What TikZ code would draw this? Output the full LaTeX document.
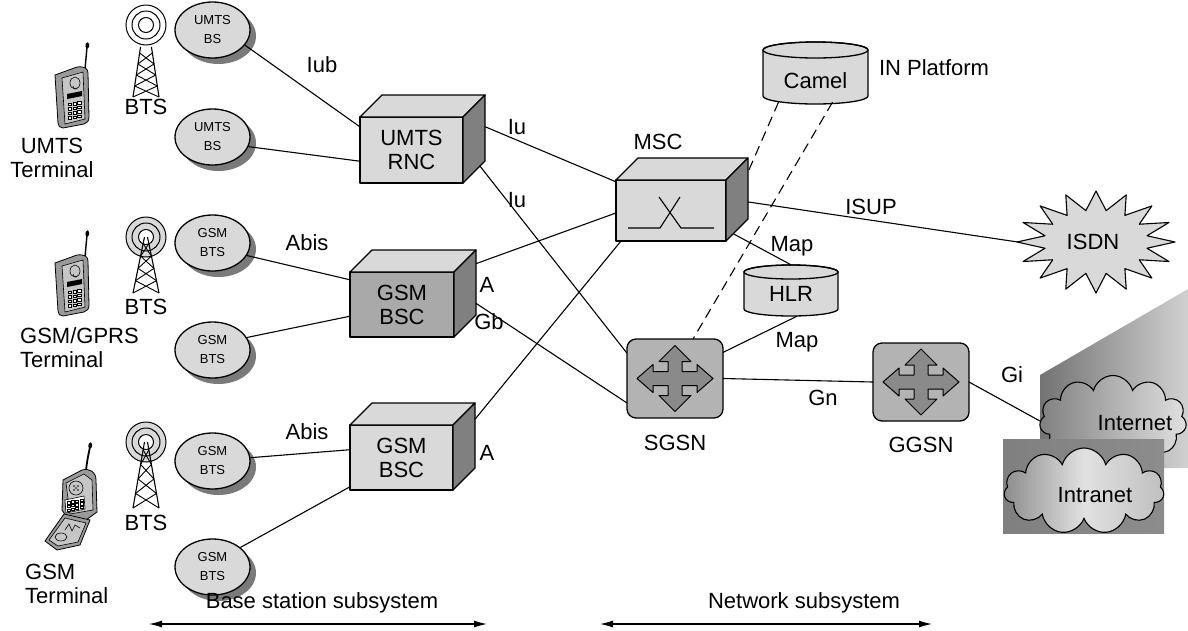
\documentclass[tikz,border=0pt]{standalone}
\usepackage{fontspec}
\setmainfont{Liberation Sans}
\usetikzlibrary{calc,shapes.geometric,shapes.symbols,arrows.meta}

\definecolor{boxlight}{HTML}{D9D9D9}
\definecolor{boxside}{HTML}{808080}
\definecolor{boxmid}{HTML}{A9A9A9}
\definecolor{routerfill}{HTML}{B3B3B3}
\definecolor{routerarrow}{HTML}{8A8A8A}
\definecolor{shadowgray}{HTML}{7A7A7A}
\definecolor{phonebody}{HTML}{9A9A9A}
\definecolor{phoneface}{HTML}{C6C6C6}

\tikzset{
  lbl/.style={font=\fontsize{22}{24}\selectfont, inner sep=0pt, align=center},
  small/.style={font=\fontsize{13}{19}\selectfont},
  link/.style={line width=1.1pt},
  dashlink/.style={line width=1.1pt, dash pattern=on 10pt off 6pt},
  outline/.style={line width=1.3pt, line join=round},
  cubefront/.style={outline, draw, rectangle, outer sep=0pt, inner sep=0pt, lbl},
  station/.style={ellipse, draw, outline, fill=boxlight, minimum width=75pt,
    minimum height=56pt, inner sep=0pt, align=center, small},
  stationshadow/.style={ellipse, fill=shadowgray, minimum width=75pt,
    minimum height=56pt, inner sep=0pt},
  router/.style={draw, outline, fill=routerfill, rounded corners=9pt,
    minimum width=96pt, minimum height=79pt, outer sep=0pt},
  span/.style={line width=1.1pt, {Latex[length=13pt,width=7pt]}-{Latex[length=13pt,width=7pt]}},
  pics/crossarrow/.style={code={
    \filldraw[outline, line width=1pt, fill=routerarrow]
      (0,-33) -- (16,-17) -- (7,-17) -- (7,-7) -- (22,-7) -- (22,-14) -- (38,0)
      -- (22,14) -- (22,7) -- (7,7) -- (7,17) -- (16,17) -- (0,33) -- (-16,17)
      -- (-7,17) -- (-7,7) -- (-22,7) -- (-22,14) -- (-38,0) -- (-22,-14)
      -- (-22,-7) -- (-7,-7) -- (-7,-17) -- (-16,-17) -- cycle;}},
  pics/barphone/.style={code={
    \draw[line width=1.4pt] (30,2) -- (32,-20);
    \draw[line width=3.5pt, line cap=round] (32.2,-20) -- (32.5,-23);
    \filldraw[line width=0.8pt, fill=phonebody] (0,8) -- (22,0)
      .. controls (30,-1) and (33,2) .. (33,6) -- (34,50)
      .. controls (34,54) and (32,56) .. (29,57) -- (8,61)
      .. controls (5,61) and (3,59) .. (3,56) -- cycle;
    \filldraw[line width=0.6pt, fill=phoneface] (7,11) -- (28,5) -- (30,52) -- (10,57) -- cycle;
    \draw[line width=0.6pt] (20,16) ellipse [x radius=5, y radius=6];
    \draw[line width=0.6pt] (18,19) arc [start angle=180, end angle=60, radius=3];
    \fill[black] (12,27) -- (27,24) -- (27,29) -- (12,32) -- cycle;
    \foreach \r in {0,1,2,3} \foreach \c in {0,1,2}
      \filldraw[fill=white, line width=0.4pt] (13+4.8*\c, 36+4.5*\r-0.8*\c) rectangle ++(3.4,2.6);
  }},
}

% three-dimensional box: name, centre of front face, width, height, front fill, text
\newcommand\cubebox[6]{%
  \node[cubefront, fill=#5, minimum width=#3pt, minimum height=#4pt] (#1) at (#2) {#6};
  \coordinate (#1-bnw) at ($(#1.north west)+(22,-22)$);
  \coordinate (#1-bne) at ($(#1.north east)+(22,-22)$);
  \coordinate (#1-bse) at ($(#1.south east)+(22,-22)$);
  \filldraw[outline, fill=boxlight] (#1.north west) -- (#1-bnw) -- (#1-bne) -- (#1.north east) -- cycle;
  \filldraw[outline, fill=boxside] (#1.north east) -- (#1-bne) -- (#1-bse) -- (#1.south east) -- cycle;
}

% base station ellipse with its shadow: name, x, y, text
\newcommand\basestation[4]{%
  \node[stationshadow] (#1-shadow) at (#2+6,#3+6) {};
  \node[station] (#1) at (#2,#3) {#4};
}

% radio mast: x, y of the rings, tower top offset, tower bottom offset, ring fill
\newcommand\radiomast[5]{%
  \filldraw[line width=1pt, fill=#5] (#1,#2) circle[radius=20];
  \draw[line width=1pt] (#1,#2) circle[radius=14];
  \filldraw[line width=1pt, fill=white] (#1,#2) circle[radius=7.5];
  \pgfmathsetmacro\mtop{#2+#3}
  \pgfmathsetmacro\mbot{#2+#4}
  \pgfmathsetmacro\mwt{1.5+0.18*#3}
  \draw[line width=1.1pt] (#1-\mwt,\mtop) -- (#1-13,\mbot) (#1+\mwt,\mtop) -- (#1+13,\mbot);
  \foreach \k in {0,1,2,3}{%
    \pgfmathsetmacro\ya{\mtop+(\mbot-\mtop)*(0.12+0.22*\k)}
    \pgfmathsetmacro\yb{\mtop+(\mbot-\mtop)*(0.34+0.22*\k)}
    \pgfmathsetmacro\wa{\mwt+(13-\mwt)*(0.12+0.22*\k)}
    \pgfmathsetmacro\wb{\mwt+(13-\mwt)*(0.34+0.22*\k)}
    \draw[line width=0.9pt] (#1-\wa,\ya) -- (#1+\wb,\yb) (#1+\wa,\ya) -- (#1-\wb,\yb);
  }
}

\begin{document}
\begin{tikzpicture}[x=1pt,y=-1pt]
\useasboundingbox (0,0) rectangle (1188,630);

% ---------- terminals ----------
\pic at (55,67) {barphone};
\pic at (55,255) {barphone};
% flip phone
\draw[line width=1.8pt] (86,471) .. controls (87,460) and (89,452) .. (90,447);
\draw[line width=3.5pt, line cap=round] (90,447) -- (90.5,444);
\filldraw[line width=0.8pt, fill=phonebody] (63,480) -- (82,470) .. controls (90,468) and (96,472) .. (96,480)
  -- (97,512) -- (86,520) -- (66,516) -- (62,510) -- cycle;
\filldraw[line width=0.6pt, fill=phoneface] (66,483) -- (84,474) -- (92,480) -- (93,510) -- (70,514) -- cycle;
\filldraw[line width=0.6pt, fill=phoneface] (76,488) circle[radius=7];
\foreach \p in {(74,486),(78,486),(74,490),(78,490),(76,488)} \fill \p circle[radius=0.9];
\filldraw[line width=0.6pt, fill=white] (65,500) -- (84,496) -- (85,509) -- (66,513) -- cycle;
\foreach \r in {0,1,2} \foreach \c in {0,1,2,3}
  \draw[line width=0.4pt] (67+4.3*\c, 501.5+3.8*\r-0.9*\c) rectangle ++(2.8,2.2);
\filldraw[line width=0.8pt, fill=phonebody] (64,514) -- (90,520) -- (80,545) -- (57,550) -- (45,541) -- cycle;
\filldraw[line width=0.6pt, fill=phoneface] (65,518) -- (86,523) -- (78,542) -- (58,546) -- (49,540) -- cycle;
\draw[line width=0.6pt] (61,537) ellipse [x radius=6, y radius=4];
\draw[line width=0.6pt] (65,530) -- (69,524) -- (72,531) -- (75,525) -- (80,528);

\node[lbl] (umtsterm) at (52,158) {UMTS\\Terminal};
\node[lbl, anchor=west, align=left] (gprsterm) at (20,348) {GSM/GPRS\\Terminal};
\node[lbl, anchor=west, align=left] (gsmterm) at (25,584) {GSM\\Terminal};

% ---------- radio masts ----------
\radiomast{146}{25}{22}{72}{white}
\radiomast{146}{237}{0}{56}{boxlight}
\radiomast{146}{442}{0}{66}{boxlight}
\node[lbl] (bts1) at (146,107) {BTS};
\node[lbl] (bts2) at (146,307) {BTS};
\node[lbl] (bts3) at (146,523) {BTS};

% ---------- base stations ----------
\basestation{ub1}{212.5}{30}{UMTS\\BS}
\basestation{ub2}{212.5}{137}{UMTS\\BS}
\basestation{gb1}{212.5}{243}{GSM\\BTS}
\basestation{gb2}{212.5}{350}{GSM\\BTS}
\basestation{gb3}{212.5}{461}{GSM\\BTS}
\basestation{gb4}{212.5}{567}{GSM\\BTS}

% ---------- controllers and switch ----------
\cubebox{rnc}{411.5,150}{103}{66}{boxlight}{UMTS\\RNC}
\cubebox{bsc}{402,304.5}{104}{65}{boxmid}{GSM\\BSC}
\cubebox{bsctwo}{401.5,457.5}{103}{65}{boxlight}{GSM\\BSC}
\cubebox{msc}{671,210.5}{110}{61}{boxlight}{}
\draw[link] ($(msc)+(-43,17.5)$) -- ($(msc)+(-11,17.5)$) -- ($(msc)+(9,-13.5)$);
\draw[link] ($(msc)+(-12,-13.5)$) -- ($(msc)+(10,17.5)$) -- ($(msc)+(43,17.5)$);
\node[lbl] (msclbl) at (658,142) {MSC};

% ---------- packet nodes ----------
\node[router] (sgsn) at (675,378.5) {};
\pic at (sgsn.center) {crossarrow};
\node[router, minimum height=78pt] (ggsn) at (921,382) {};
\pic at (ggsn.center) {crossarrow};
\node[lbl] (sgsnlbl) at (675,443) {SGSN};
\node[lbl] (ggsnlbl) at (921,445) {GGSN};

% ---------- databases ----------
\filldraw[outline, fill=boxlight] (744,272) -- (744,309) arc[start angle=180, end angle=0, x radius=47, y radius=7]
  -- (838,272) arc[start angle=0, end angle=-180, x radius=47, y radius=7] -- cycle;
\draw[outline] (791,272) ellipse [x radius=47, y radius=7];
\node[inner sep=0pt, minimum width=94pt, minimum height=51pt] (hlr) at (791,290.5) {};
\node[lbl] (hlrlbl) at (791,294) {HLR};

\filldraw[outline, fill=boxlight] (763,50) -- (763,96) arc[start angle=180, end angle=0, x radius=52.5, y radius=8]
  -- (868,50) arc[start angle=0, end angle=-180, x radius=52.5, y radius=8] -- cycle;
\draw[outline] (815.5,50) ellipse [x radius=52.5, y radius=8];
\node[inner sep=0pt, minimum width=105pt, minimum height=62pt] (camel) at (815.5,73) {};
\node[lbl] (camellbl) at (815.5,81) {Camel};
\node[lbl] (inplat) at (934,68) {IN Platform};

% ---------- ISDN ----------
\filldraw[outline, line width=1.1pt, fill=boxlight] plot[samples at={0,...,31}, variable=\k]
  ({1096+ifthenelse(mod(\k,2)==0,79,52)*cos(\k*11.25)}, {242+ifthenelse(mod(\k,2)==0,51,32)*sin(\k*11.25)}) -- cycle;
\node[ellipse, inner sep=0pt, minimum width=156pt, minimum height=100pt] (isdn) at (1096,242) {};
\node[lbl] (isdnlbl) at (1093,242) {ISDN};

% ---------- Internet and intranet ----------
\shade[left color=black!55, right color=black!18] (1040,375) -- (1188,289) -- (1188,468) -- (1040,468) -- cycle;
\node[cloud, cloud puffs=11, aspect=1.6, draw, line width=1.1pt, inner sep=0pt,
  minimum width=147pt, minimum height=91pt, left color=black!50, right color=black!12] (internet) at (1113,421) {};
\node[lbl] (internetlbl) at (1135,423) {Internet};
\shade[left color=black!50, middle color=black!12, right color=black!45] (1003,439) rectangle (1164,533);
\node[cloud, cloud puffs=11, aspect=1.8, draw, line width=1.1pt, inner sep=0pt,
  minimum width=160pt, minimum height=86pt, left color=black!45, right color=black!25, middle color=black!12] (intranet) at (1084,491) {};
\node[lbl] (intranetlbl) at (1095,495) {Intranet};

% ---------- radio access links ----------
\draw[link] (ub1.-25) -- ($(rnc.north west)!0.15!(rnc.south west)$);
\draw[link] (ub2.-15) -- ($(rnc.north west)!0.67!(rnc.south west)$);
\draw[link] (gb1.-20) -- ($(bsc.north west)!0.12!(bsc.south west)$);
\draw[link] (gb2.20) -- ($(bsc.north west)!0.68!(bsc.south west)$);
\draw[link] (gb3.5) -- ($(bsctwo.north west)!0.38!(bsctwo.south west)$);
\draw[link] (gb4.35) -- ($(bsctwo.north west)!0.95!(bsctwo.south west)$);
\node[lbl] (iub) at (322,65) {Iub};
\node[lbl] (abis1) at (307,243) {Abis};
\node[lbl] (abis2) at (307,432) {Abis};

% ---------- core links ----------
\draw[link] ($(rnc-bne)!0.48!(rnc-bse)$) -- ($(msc.north west)!0.03!(msc.south west)$);
\draw[link] ($(rnc.south east)!0.77!(rnc-bse)$) -- ($(sgsn.north west)!0.18!(sgsn.south west)$);
\draw[link] ($(bsc-bne)!0.21!(bsc-bse)$) -- ($(msc.north west)!0.54!(msc.south west)$);
\draw[link] ($(bsc-bne)!0.82!(bsc-bse)$) -- ($(sgsn.north west)!0.81!(sgsn.south west)$);
\draw[link] ($(bsctwo-bne)!0.25!(bsctwo-bse)$) -- ($(msc.south west)+(5,0)$);
\draw[link] ($(msc-bne)!0.72!(msc-bse)$) -- (isdn.west);
\draw[link] ($(msc.south east)!0.33!(msc-bse)$) -- (hlr.north);
\draw[link] ($(hlr.south)+(6,0)$) -- ($(sgsn.north east)!0.17!(sgsn.south east)$);
\draw[link] (sgsn.east) -- (ggsn.west);
\draw[link] (ggsn.east) -- (internet.west);
\draw[dashlink] ($(camel.south)+(17,-2)$) -- ($(sgsn.north)+(18,0)$);
\draw[dashlink] ($(camel.south)+(-37,-2)$) -- ($(msc-bne)!0.23!(msc-bse)$);
\node[lbl] (iu1) at (517,127) {Iu};
\node[lbl] (iu2) at (517,200) {Iu};
\node[lbl] (a1) at (487,285) {A};
\node[lbl] (gb) at (489,322) {Gb};
\node[lbl] (a2) at (487,453) {A};
\node[lbl] (isup) at (871,207) {ISUP};
\node[lbl] (map1) at (792,246) {Map};
\node[lbl] (map2) at (797,342) {Map};
\node[lbl] (gn) at (823,398) {Gn};
\node[lbl] (gi) at (1012,375) {Gi};

% ---------- subsystem spans ----------
\node[lbl] (bsslbl) at (322,603) {Base station subsystem};
\node[lbl] (nsslbl) at (804,603) {Network subsystem};
\coordinate (bssL) at (149,624);
\coordinate (bssR) at (487,624);
\coordinate (nssL) at (600,624);
\coordinate (nssR) at (932,624);
\draw[span] (bssL) -- (bssR);
\draw[span] (nssL) -- (nssR);
\end{tikzpicture}
\end{document}
